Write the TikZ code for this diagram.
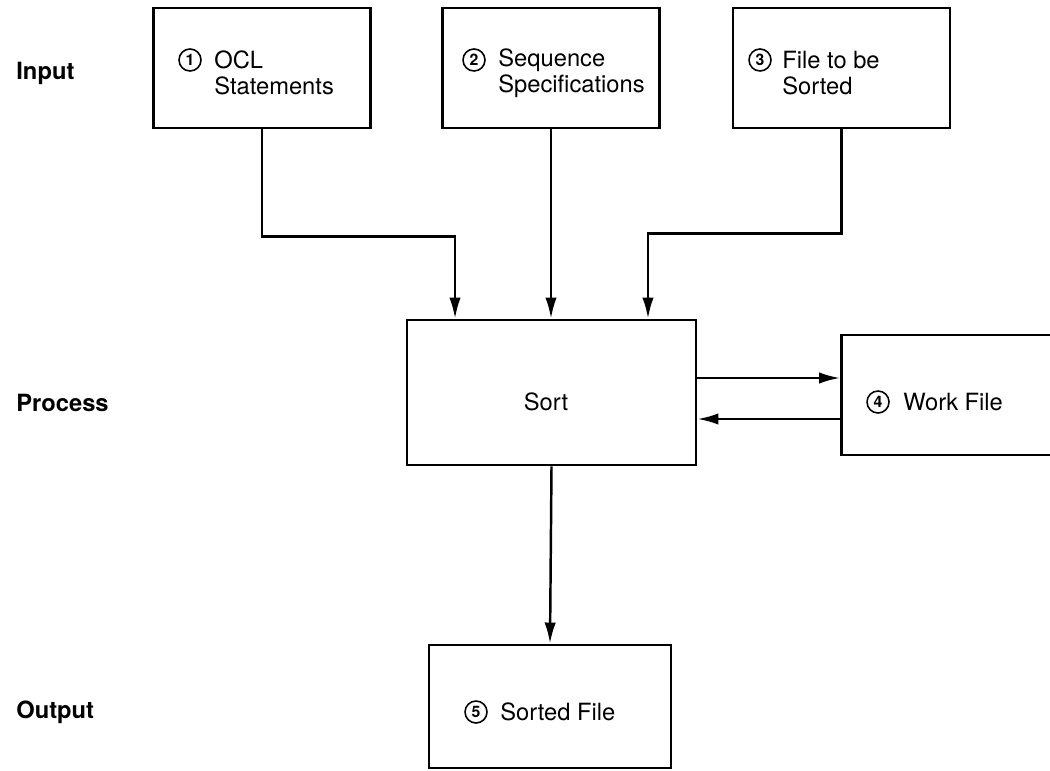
\documentclass[tikz,border=0pt]{standalone}
\usepackage{fontspec}
\setmainfont{TeX Gyre Heros}
\usetikzlibrary{arrows.meta,positioning}
\newcommand{\numcirc}[4] % {name}{x}{y}{digit}
{
	\node [circle, draw, line width=0.9pt, minimum size=0.44cm, inner sep=0pt, font=\fontsize{9}{9}\selectfont\bfseries] (#1) at (#2,#3) {#4};
}

\begin{document}
\begin{tikzpicture}[x=0.02cm, y=-0.02cm,
	box/.style={draw, line width=1.6pt, minimum width=4.34cm, minimum height=2.4cm},
	flow/.style={line width=1.4pt, -{Latex[length=12pt, width=6.5pt]}},
	txt/.style={anchor=west, align=left, inner sep=0pt, font=\fontsize{13.5}{15}\selectfont},
	rowlabel/.style={anchor=west, inner sep=0pt, font=\fontsize{13.5}{15}\selectfont\bfseries}]

	\useasboundingbox (0,0) rectangle (1050,770);

	% row labels
	\node [rowlabel] (input) at (16,73) {Input};
	\node [rowlabel] (process) at (16,403) {Process};
	\node [rowlabel] (output) at (16,712) {Output};

	% input boxes
	\node [box] (ocl) at (262,68) {};
	\node [box] (seq) at (551,68) {};
	\node [box] (file) at (841.5,68) {};

	\numcirc{c1}{190}{60}{1}
	\node [txt] (ocltxt) at (214,73) {OCL\\Statements};
	\numcirc{c2}{474}{60}{2}
	\node [txt] (seqtxt) at (498,73) {Sequence\\Specifications};
	\numcirc{c3}{760}{60}{3}
	\node [txt] (filetxt) at (782,73) {File to be\\Sorted};

	% process
	\node [box, minimum width=5.78cm, minimum height=2.9cm] (sort) at (551.5,392.5) {};
	\node [font=\fontsize{13.5}{15}\selectfont] (sorttxt) at (546,402) {Sort};

	\node [box] (work) at (950,395) {};
	\numcirc{c4}{878}{402}{4}
	\node [txt] (worktxt) at (903,402) {Work File};

	% output
	\node [box, minimum width=4.84cm, minimum height=2.46cm] (sorted) at (550,706.5) {};
	\numcirc{c5}{476}{712}{5}
	\node [txt] (sortedtxt) at (500,712) {Sorted File};

	% connectors
	\draw [flow] (ocl.south) -- ++(0,107) -| ([xshift=-1.93cm]sort.north);
	\draw [flow] (seq.south) -- (seq.south |- sort.north);
	\draw [flow] (file.south) -- ++(0,104) -| ([xshift=1.93cm]sort.north);

	\draw [flow] ([yshift=0.29cm]sort.east) -- ([yshift=0.29cm]sort.east -| work.west);
	\draw [flow] ([yshift=-0.53cm]sort.east -| work.west) -- ([yshift=-0.53cm]sort.east);

	\draw [flow] (sort.south) -- (sorted.north);

\end{tikzpicture}
\end{document}
